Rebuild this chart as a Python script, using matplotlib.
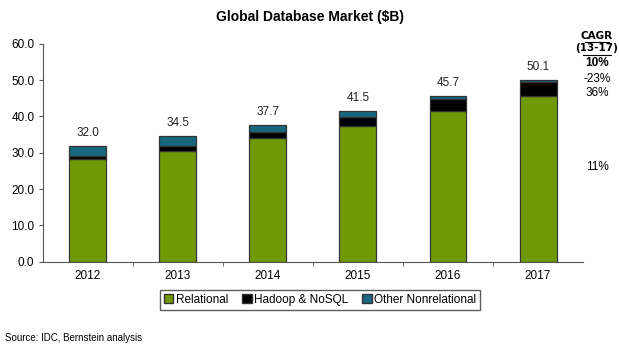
import numpy as np
import matplotlib.pyplot as plt
from matplotlib.lines import Line2D
from matplotlib.patches import Patch

plt.rcParams['font.family'] = ['Liberation Sans', 'DejaVu Sans']

years = ['2012', '2013', '2014', '2015', '2016', '2017']
relational = [28.2, 30.5, 34.0, 37.5, 41.4, 45.6]
hadoop = [0.8, 1.4, 1.8, 2.4, 3.3, 4.0]
other = [3.0, 2.6, 1.9, 1.6, 1.0, 0.5]
totals = [32.0, 34.5, 37.7, 41.5, 45.7, 50.1]
series_names = ['Relational', 'Hadoop & NoSQL', 'Other Nonrelational']
cagr_labels = ['10%', '-23%', '36%', '11%']
cagr_y = [63, 79, 93, 167]  # pixel rows from top

green = '#6f9a03'
teal = '#17687e'
edge = '#333333'

fig = plt.figure(figsize=(6.19, 3.48), dpi=100)
ax = fig.add_axes([0.069, 0.248, 0.873, 0.626])

x = np.arange(len(years))
w = 0.41
rel = np.array(relational)
had = np.array(hadoop)
oth = np.array(other)
ax.bar(x, rel, w, color=green, edgecolor=edge, linewidth=0.9)
ax.bar(x, had, w, bottom=rel, color='black', edgecolor=edge, linewidth=0.9)
ax.bar(x, oth, w, bottom=rel + had, color=teal, edgecolor=edge, linewidth=0.9)

for xi, t in zip(x, totals):
    ax.annotate(f'{t:.1f}', (xi, rel[xi] + had[xi] + oth[xi]), xytext=(0, 5),
                textcoords='offset points', ha='center', va='bottom',
                fontsize=8.5, color='#222222')

ax.set_xlim(-0.5, len(years) - 0.5)
ax.set_ylim(0, 60)
ax.set_yticks(np.arange(0, 61, 10))
ax.set_yticklabels([f'{v:.1f}' for v in np.arange(0, 61, 10)], fontsize=8.5)
ax.set_xticks(x)
ax.set_xticklabels(years, fontsize=8.5)
ax.tick_params(axis='x', length=0, pad=6)
ax.set_xticks(np.arange(0.5, len(years) - 0.5, 1), minor=True)
ax.tick_params(axis='x', which='minor', length=3, color='#555555')
ax.tick_params(axis='y', length=3, color='#555555', pad=3)
for s in ['top', 'right']:
    ax.spines[s].set_visible(False)
for s in ['left', 'bottom']:
    ax.spines[s].set_color('#555555')
    ax.spines[s].set_linewidth(0.8)

fig.text(0.5, 1 - 17 / 348, 'Global Database Market ($B)', ha='center', va='center',
         fontsize=10, fontweight='bold')

handles = [Patch(facecolor=green, edgecolor=edge),
           Patch(facecolor='black', edgecolor=edge),
           Patch(facecolor=teal, edgecolor=edge)]
leg = fig.legend(handles, series_names, loc='center', bbox_to_anchor=(0.517, 1 - 300 / 348),
                 ncol=3, fontsize=8.5, frameon=True, fancybox=False, handlelength=0.8,
                 handleheight=0.8, handletextpad=0.2, columnspacing=1.2, borderpad=0.35)
leg.get_frame().set_edgecolor('#333333')
leg.get_frame().set_linewidth(1.0)

fig.text(5 / 619, 1 - 338 / 348, 'Source: IDC, Bernstein analysis', fontsize=7, va='center')

# CAGR column
cx = 597 / 619
cond = ['DejaVu Sans Condensed', 'DejaVu Sans']
fig.text(cx, 1 - 36 / 348, 'CAGR', ha='center', va='center', fontsize=7.5,
         fontweight='bold', family=cond)
fig.text(cx, 1 - 48 / 348, '(13-17)', ha='center', va='center', fontsize=7.5,
         fontweight='bold', family=cond)
fig.add_artist(Line2D([585 / 619, 609 / 619], [1 - 42 / 348] * 2, color='black', lw=0.8))
fig.add_artist(Line2D([583 / 619, 611 / 619], [1 - 54.5 / 348] * 2, color='black', lw=0.8))
for i, (lab, yy) in enumerate(zip(cagr_labels, cagr_y)):
    fig.text(cx, 1 - yy / 348, lab, ha='center', va='center', fontsize=8.5,
             fontweight='bold' if i == 0 else 'normal')

fig.savefig('out.png', dpi=100)
